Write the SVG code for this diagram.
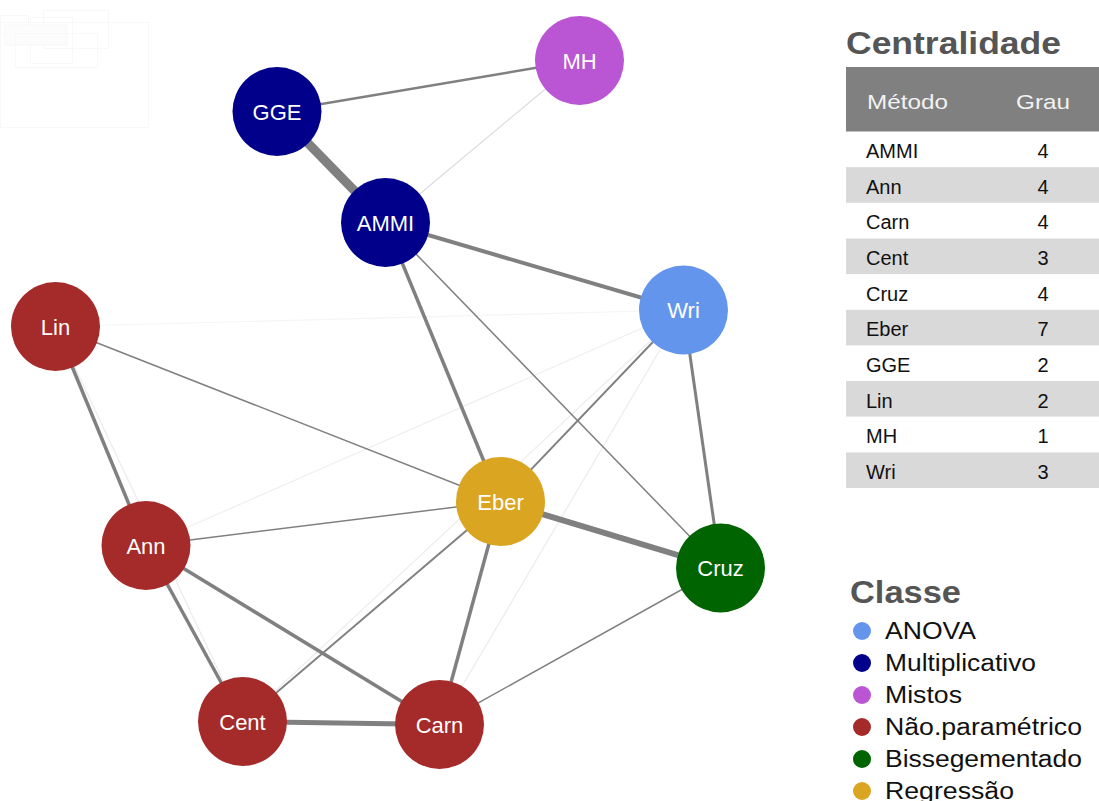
<svg xmlns="http://www.w3.org/2000/svg" width="1099" height="801" viewBox="0 0 1099 801">
<style>
.e{stroke:#808080;stroke-linecap:butt;fill:none}
.f{stroke:#e8e8e8;stroke-width:1.2;fill:none}
.n text{font-family:"Liberation Sans",Arial,sans-serif;font-size:22px;fill:#ffffff;text-anchor:middle}
.ttl{font-family:"Liberation Sans",Arial,sans-serif;font-weight:bold;font-size:31px;fill:#555555}
.th{font-family:"Liberation Sans",Arial,sans-serif;font-size:21px;fill:#f2f2f2}
.td{font-family:"Liberation Sans",Arial,sans-serif;font-size:20px;fill:#111111}
.num{text-anchor:middle}
.lg{font-family:"Liberation Sans",Arial,sans-serif;font-size:23.5px;fill:#111111}
.ghost{fill:none;stroke:#f8f8f8;stroke-width:1}
</style>
<rect width="1099" height="801" fill="#ffffff"/>
<g id="background-marks">
<rect class="ghost" x="0.5" y="22.5" width="148" height="105"/>
<rect class="ghost" x="43.5" y="10.5" width="65" height="38"/>
<rect class="ghost" x="0.5" y="15.5" width="28" height="18"/>
<rect class="ghost" x="30.5" y="17.5" width="42" height="46"/>
<rect x="5" y="25" width="62" height="20" fill="#fcfcfc" stroke="#f7f7f7"/>
<rect class="ghost" x="15.5" y="33.5" width="82" height="34"/>
</g>
<g id="connectors">
<line class="f" x1="385.5" y1="222.5" x2="579.5" y2="60.5" style="stroke:#dcdcdc"/>
<line class="f" x1="55.5" y1="326.5" x2="683.5" y2="310" style="stroke:#f5f5f5"/>
<line class="f" x1="55.5" y1="326.5" x2="242.5" y2="721.5" style="stroke:#ececec"/>
<line class="f" x1="146" y1="545.5" x2="683.5" y2="310" style="stroke:#efefef"/>
<line class="f" x1="439.5" y1="724.5" x2="683.5" y2="310" style="stroke:#ebebeb"/>
<line class="f" x1="242.5" y1="721.5" x2="683.5" y2="310" style="stroke:#ececec"/>
<line class="e" x1="277" y1="111.5" x2="385.5" y2="222.5" stroke-width="9"/>
<line class="e" x1="277" y1="111.5" x2="579.5" y2="60.5" stroke-width="2.5"/>
<line class="e" x1="385.5" y1="222.5" x2="683.5" y2="310" stroke-width="4"/>
<line class="e" x1="385.5" y1="222.5" x2="500.5" y2="501.5" stroke-width="3.5"/>
<line class="e" x1="385.5" y1="222.5" x2="720.5" y2="568" stroke-width="1.5"/>
<line class="e" x1="55.5" y1="326.5" x2="500.5" y2="501.5" stroke-width="1.5"/>
<line class="e" x1="55.5" y1="326.5" x2="146" y2="545.5" stroke-width="3.5"/>
<line class="e" x1="146" y1="545.5" x2="500.5" y2="501.5" stroke-width="1.5"/>
<line class="e" x1="146" y1="545.5" x2="242.5" y2="721.5" stroke-width="3.5"/>
<line class="e" x1="146" y1="545.5" x2="439.5" y2="724.5" stroke-width="3.5"/>
<line class="e" x1="242.5" y1="721.5" x2="500.5" y2="501.5" stroke-width="2"/>
<line class="e" x1="242.5" y1="721.5" x2="439.5" y2="724.5" stroke-width="5"/>
<line class="e" x1="439.5" y1="724.5" x2="500.5" y2="501.5" stroke-width="3.5"/>
<line class="e" x1="439.5" y1="724.5" x2="720.5" y2="568" stroke-width="1.5"/>
<line class="e" x1="500.5" y1="501.5" x2="720.5" y2="568" stroke-width="6"/>
<line class="e" x1="500.5" y1="501.5" x2="683.5" y2="310" stroke-width="2"/>
<line class="e" x1="683.5" y1="310" x2="720.5" y2="568" stroke-width="3"/>
</g>
<g id="node-MH" class="n"><circle cx="579.5" cy="60.5" r="44.5" fill="#BA55D3"/><text x="579.5" y="68.5">MH</text></g>
<g id="node-GGE" class="n"><circle cx="277" cy="111.5" r="44.5" fill="#00008B"/><text x="277" y="119.5">GGE</text></g>
<g id="node-AMMI" class="n"><circle cx="385.5" cy="222.5" r="44.5" fill="#00008B"/><text x="385.5" y="230.5">AMMI</text></g>
<g id="node-Wri" class="n"><circle cx="683.5" cy="310" r="44.5" fill="#6495ED"/><text x="683.5" y="318">Wri</text></g>
<g id="node-Lin" class="n"><circle cx="55.5" cy="326.5" r="44.5" fill="#A52A2A"/><text x="55.5" y="334.5">Lin</text></g>
<g id="node-Eber" class="n"><circle cx="500.5" cy="501.5" r="44.5" fill="#DAA520"/><text x="500.5" y="509.5">Eber</text></g>
<g id="node-Ann" class="n"><circle cx="146" cy="545.5" r="44.5" fill="#A52A2A"/><text x="146" y="553.5">Ann</text></g>
<g id="node-Cruz" class="n"><circle cx="720.5" cy="568" r="44.5" fill="#006400"/><text x="720.5" y="576">Cruz</text></g>
<g id="node-Cent" class="n"><circle cx="242.5" cy="721.5" r="44.5" fill="#A52A2A"/><text x="242.5" y="729.5">Cent</text></g>
<g id="node-Carn" class="n"><circle cx="439.5" cy="724.5" r="44.5" fill="#A52A2A"/><text x="439.5" y="732.5">Carn</text></g>
<g id="table">
<text class="ttl" x="846" y="54" textLength="215" lengthAdjust="spacingAndGlyphs">Centralidade</text>
<rect x="846" y="67" width="253" height="64.5" fill="#808080"/>
<text class="th" x="867" y="109" textLength="81" lengthAdjust="spacingAndGlyphs">Método</text>
<text class="th" x="1016" y="109" textLength="54" lengthAdjust="spacingAndGlyphs">Grau</text>
<rect x="846" y="167.2" width="253" height="35.6" fill="#d9d9d9"/>
<rect x="846" y="238.5" width="253" height="35.6" fill="#d9d9d9"/>
<rect x="846" y="309.8" width="253" height="35.6" fill="#d9d9d9"/>
<rect x="846" y="381" width="253" height="35.6" fill="#d9d9d9"/>
<rect x="846" y="452.4" width="253" height="35.6" fill="#d9d9d9"/>
<g class="td">
<text x="866" y="158">AMMI</text><text class="num" x="1043" y="158">4</text>
<text x="866" y="193.5">Ann</text><text class="num" x="1043" y="193.5">4</text>
<text x="866" y="229">Carn</text><text class="num" x="1043" y="229">4</text>
<text x="866" y="265">Cent</text><text class="num" x="1043" y="265">3</text>
<text x="866" y="300.5">Cruz</text><text class="num" x="1043" y="300.5">4</text>
<text x="866" y="336">Eber</text><text class="num" x="1043" y="336">7</text>
<text x="866" y="372">GGE</text><text class="num" x="1043" y="372">2</text>
<text x="866" y="407.5">Lin</text><text class="num" x="1043" y="407.5">2</text>
<text x="866" y="443">MH</text><text class="num" x="1043" y="443">1</text>
<text x="866" y="478.5">Wri</text><text class="num" x="1043" y="478.5">3</text>
</g>
</g>
<g id="legend">
<text class="ttl" x="850" y="603" textLength="111" lengthAdjust="spacingAndGlyphs">Classe</text>
<circle cx="862" cy="631" r="9" fill="#6495ED"/>
<text class="lg" x="885" y="639" textLength="91" lengthAdjust="spacingAndGlyphs">ANOVA</text>
<circle cx="862" cy="663" r="9" fill="#00008B"/>
<text class="lg" x="885" y="671" textLength="151" lengthAdjust="spacingAndGlyphs">Multiplicativo</text>
<circle cx="862" cy="695" r="9" fill="#BA55D3"/>
<text class="lg" x="885" y="703" textLength="77" lengthAdjust="spacingAndGlyphs">Mistos</text>
<circle cx="862" cy="727" r="9" fill="#A52A2A"/>
<text class="lg" x="885" y="735" textLength="197" lengthAdjust="spacingAndGlyphs">Não.paramétrico</text>
<circle cx="862" cy="759" r="9" fill="#006400"/>
<text class="lg" x="885" y="767" textLength="197" lengthAdjust="spacingAndGlyphs">Bissegementado</text>
<circle cx="862" cy="791" r="9" fill="#DAA520"/>
<text class="lg" x="885" y="799" textLength="129" lengthAdjust="spacingAndGlyphs">Regressão</text>
</g>
</svg>
